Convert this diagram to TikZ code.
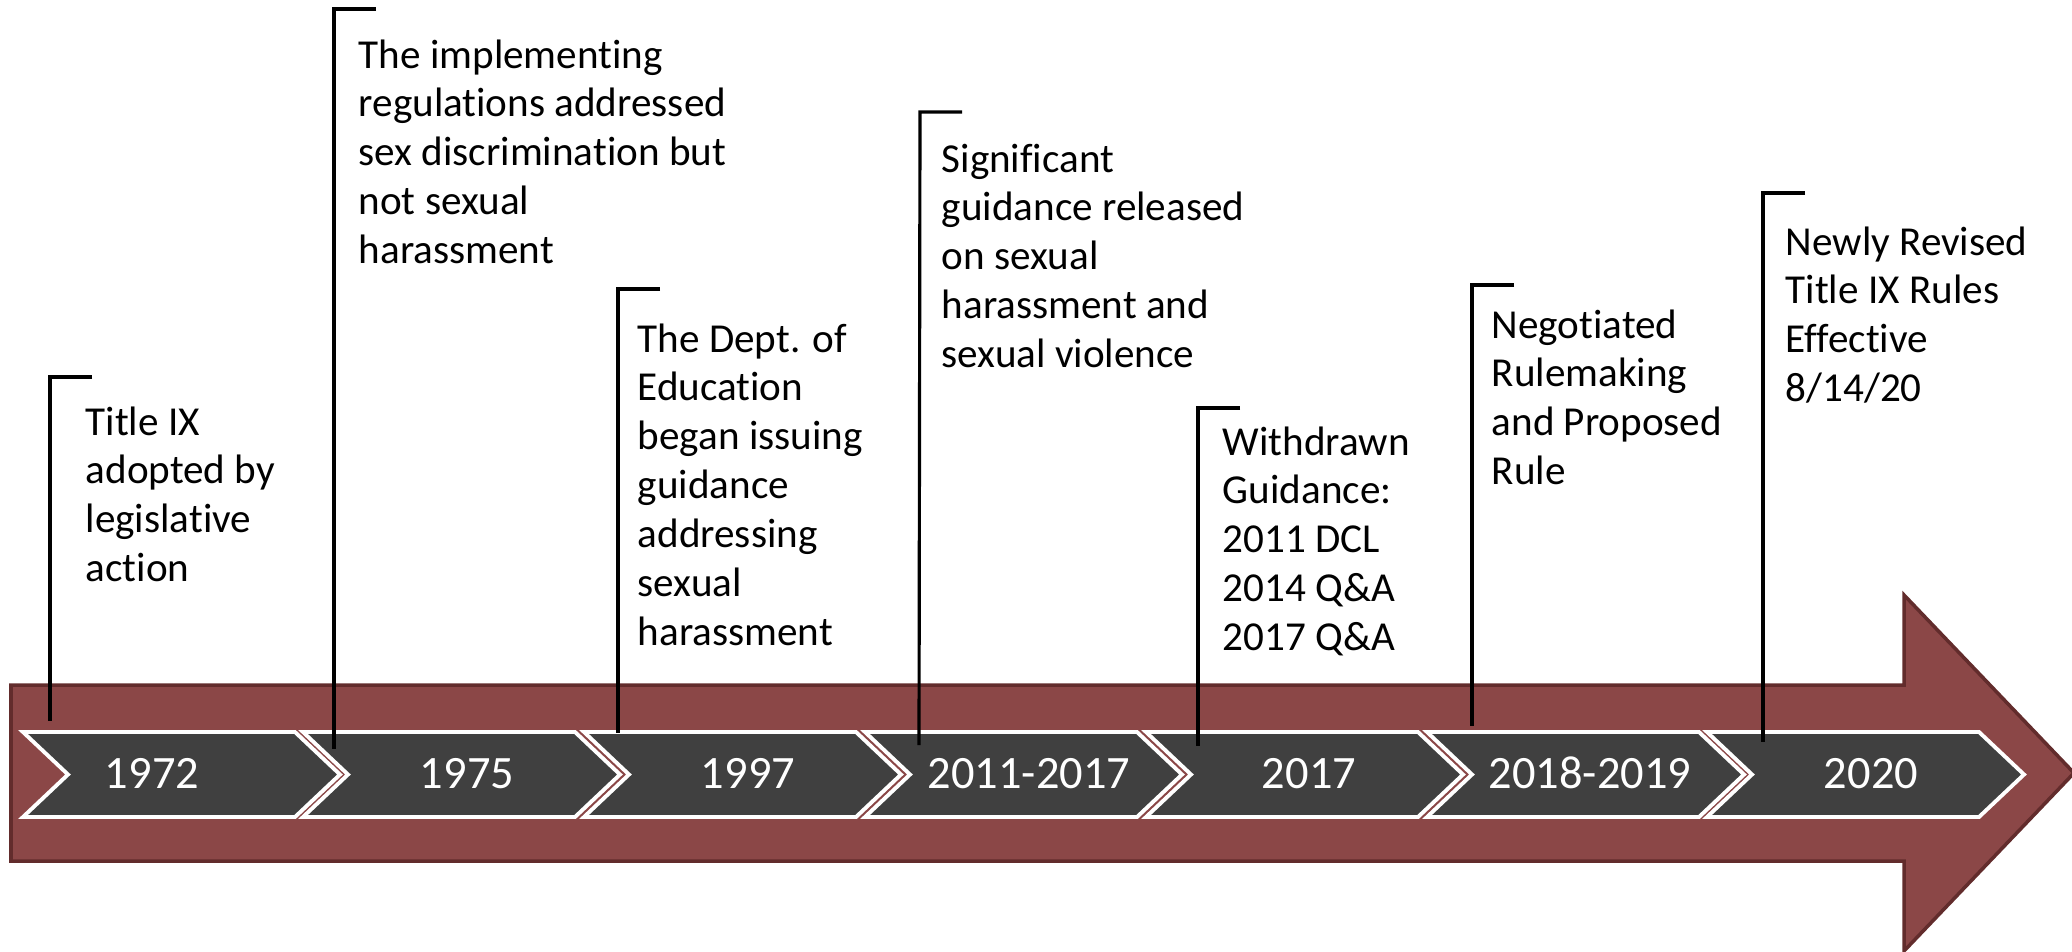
\documentclass[tikz,border=0pt]{standalone}
\usepackage{fontspec}
\setmainfont{Carlito}[Ligatures=NoCommon]
\usetikzlibrary{calc}

\definecolor{barred}{RGB}{139,71,71}
\definecolor{bardark}{RGB}{98,44,44}
\definecolor{chevgray}{RGB}{64,64,64}

\newcommand{\eventlines}[1]{\begin{tabular}[t]{@{}l@{}}#1\end{tabular}}

\tikzset{
  bracket/.style={draw=black,line width=0.9pt},
  chevron/.style={fill=chevgray,draw=white,line width=1.1pt,line join=miter},
  yearlabel/.style={text=white,anchor=base,inner sep=0pt,font=\fontsize{13.2}{15}\selectfont},
  eventtext/.style={anchor=base west,inner sep=0pt,font=\fontsize{11.7}{13.9}\selectfont}
}

\begin{document}
\begin{tikzpicture}[x=0.01cm,y=-0.01cm]
  \useasboundingbox (0,0) rectangle (2072,951);

  \filldraw[fill=barred,draw=bardark,line width=1pt]
    (11,685) -- (1904,685) -- (1904,595) -- (2074,773) -- (1904,951)
    -- (1904,861) -- (11,861) -- cycle;

  \foreach \l/\yr/\lx in {23/1972/152, 303/1975/467, 584/1997/748,
      865/2011-2017/1029, 1146/2017/1309, 1427/2018-2019/1590, 1707/2020/1871} {
    \draw[chevron] (\l,732) -- ({\l+272},732) -- ({\l+317},774.5)
      -- ({\l+272},817) -- (\l,817) -- ({\l+45},774.5) -- cycle;
    \node[yearlabel] (c\yr) at (\lx,788) {\yr};
  }

  \begin{scope}[every node/.style={eventtext}]
    \node (ev1) at (85,435) {\eventlines{Title IX\\adopted by\\legislative\\action}};
    \node (ev2) at (358,68) {\eventlines{The implementing\\regulations addressed\\sex discrimination but\\not sexual\\harassment}};
    \node (ev3) at (637,352) {\eventlines{The Dept. of\\Education\\began issuing\\guidance\\addressing\\sexual\\harassment}};
    \node (ev4) at (941,172) {\eventlines{Significant\\guidance released\\on sexual\\harassment and\\sexual violence}};
    \node (ev5) at (1222,455) {\eventlines{Withdrawn\\Guidance:\\2011 DCL\\2014 Q\&A\\2017 Q\&A}};
    \node (ev6) at (1491,338) {\eventlines{Negotiated\\Rulemaking\\and Proposed\\Rule}};
    \node (ev7) at (1785,255) {\eventlines{Newly Revised\\Title IX Rules\\Effective\\8/14/20}};
  \end{scope}

  \coordinate (top1) at (50,377);   \coordinate (bot1) at (50,721);
  \coordinate (top2) at (334,9);    \coordinate (bot2) at (334,749);
  \coordinate (top3) at (618,289);  \coordinate (bot3) at (618,733);
  \coordinate (top4) at (920,112);  \coordinate (bot4) at (919,745);
  \coordinate (top5) at (1198,408); \coordinate (bot5) at (1198,746);
  \coordinate (top6) at (1472,285); \coordinate (bot6) at (1472,726);
  \coordinate (top7) at (1763,193); \coordinate (bot7) at (1763,742);

  \foreach \i in {1,...,7}
    \draw[bracket] ($(top\i)+(42,0)$) -- (top\i) -- (bot\i);

\end{tikzpicture}
\end{document}
